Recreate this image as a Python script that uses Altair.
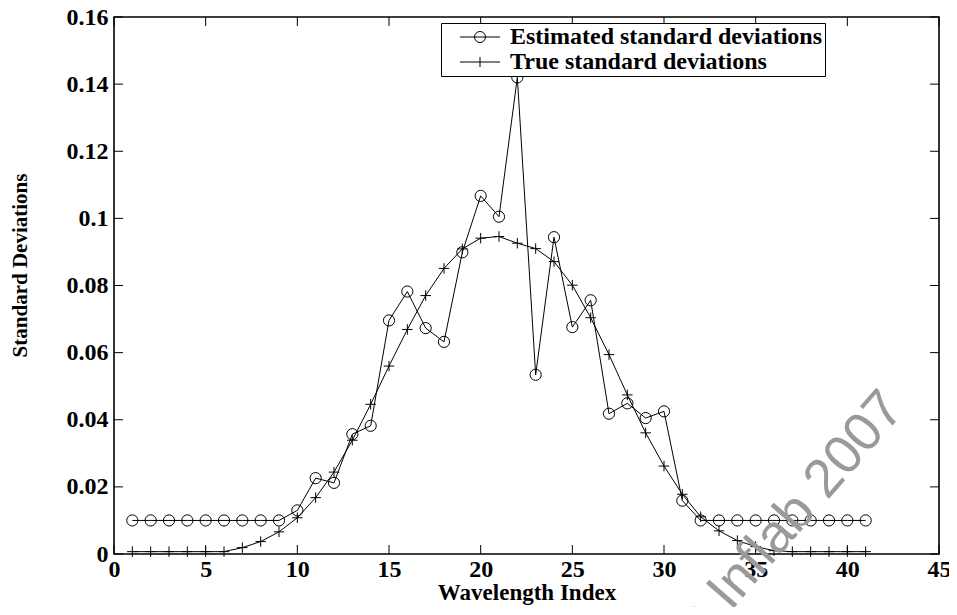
import altair as alt
import pandas as pd

# ---- data ----
wavelength_index = [1, 2, 3, 4, 5, 6, 7, 8, 9, 10, 11, 12, 13, 14, 15, 16, 17, 18, 19, 20, 21,
                    22, 23, 24, 25, 26, 27, 28, 29, 30, 31, 32, 33, 34, 35, 36, 37, 38, 39, 40, 41]
estimated_sd = [0.0100, 0.0100, 0.0100, 0.0100, 0.0100, 0.0100, 0.0100, 0.0100, 0.0100,
                0.0130, 0.0226, 0.0212, 0.0357, 0.0382, 0.0696, 0.0782, 0.0673, 0.0632,
                0.0899, 0.1067, 0.1005, 0.1420, 0.0534, 0.0944, 0.0676, 0.0756, 0.0418,
                0.0449, 0.0405, 0.0425, 0.0159, 0.0100, 0.0100, 0.0100, 0.0100, 0.0100,
                0.0100, 0.0100, 0.0100, 0.0100, 0.0100]
true_sd = [0.0007, 0.0007, 0.0007, 0.0007, 0.0007, 0.0007, 0.0019, 0.0037, 0.0066,
           0.0108, 0.0168, 0.0244, 0.0339, 0.0446, 0.0560, 0.0669, 0.0770, 0.0851,
           0.0909, 0.0941, 0.0946, 0.0926, 0.0910, 0.0871, 0.0801, 0.0704, 0.0594,
           0.0474, 0.0361, 0.0262, 0.0178, 0.0111, 0.0069, 0.0040, 0.0022, 0.0010,
           0.0007, 0.0007, 0.0007, 0.0007, 0.0007]
series_names = ["Estimated standard deviations", "True standard deviations"]
x_ticks = [0, 5, 10, 15, 20, 25, 30, 35, 40, 45]
y_ticks = [0, 0.02, 0.04, 0.06, 0.08, 0.1, 0.12, 0.14, 0.16]
x_title = "Wavelength Index"
y_title = "Standard Deviations"
watermark = ["© Inflab 2007"]

W, H = 825, 537
FONT = "Liberation Serif"
TICK = 9

df = pd.DataFrame({
    "x": wavelength_index + wavelength_index,
    "y": estimated_sd + true_sd,
    "series": [series_names[0]] * len(estimated_sd) + [series_names[1]] * len(true_sd),
})

xs = alt.Scale(domain=[0, 45], nice=False, zero=False)
ys = alt.Scale(domain=[0, 0.16], nice=False, zero=False)

x_axis = alt.Axis(values=x_ticks, title=x_title, labelFlush=False, labelOverlap=False,
                  labelPadding=3, titleFontSize=23, titleY=45, titleBaseline="alphabetic")
y_axis = alt.Axis(values=y_ticks, title=y_title, format=".2~f", labelFlush=False,
                  labelOverlap=False, labelPadding=6, titleFontSize=21, titleAngle=270,
                  titleX=-94, titleY=248, titleAlign="center", titleBaseline="middle")

X = lambda f: alt.X(f, scale=xs, axis=x_axis)
Y = lambda f: alt.Y(f, scale=ys, axis=y_axis)

base = alt.Chart(df)

lines = base.mark_line(color="black", strokeWidth=1).encode(
    x=X("x:Q"), y=Y("y:Q"), detail="series:N",
)

circles = base.transform_filter(alt.datum.series == series_names[0]).mark_point(
    shape="circle", filled=False, color="black", size=125, strokeWidth=1, opacity=1
).encode(x=X("x:Q"), y=Y("y:Q"))

plus_path = "M-1,0H1M0,-1V1"
pluses = base.transform_filter(alt.datum.series == series_names[1]).mark_point(
    shape=plus_path, filled=False, color="black", size=110, strokeWidth=1, opacity=1
).encode(x=X("x:Q"), y=Y("y:Q"))

leg_circle = "M-2,0H2M0.55,0A0.55,0.55 0 1 1 -0.55,0A0.55,0.55 0 1 1 0.55,0"
leg_plus = "M-2,0H2M0,-0.5V0.5"
legend_layer = base.transform_filter("false").mark_point(
    filled=False, color="black", size=400, strokeWidth=1, opacity=1
).encode(
    x=X("x:Q"),
    y=Y("y:Q"),
    shape=alt.Shape(
        "series:N",
        scale=alt.Scale(domain=series_names, range=[leg_circle, leg_plus]),
        legend=alt.Legend(
            title=None, orient="none", legendX=327, legendY=6,
            fillColor="white", strokeColor="black",
            padding=2, rowPadding=1, symbolOffset=25, labelOffset=18,
            symbolSize=400, symbolStrokeColor="black", symbolStrokeWidth=1,
            symbolFillColor="transparent", symbolOpacity=1,
            labelFont=FONT, labelFontWeight="bold", labelFontSize=24,
            labelColor="black", labelLimit=500,
        ),
    ),
)

xt = alt.Chart(pd.DataFrame({"t": x_ticks}))
yt = alt.Chart(pd.DataFrame({"v": y_ticks}))
tick_bottom = xt.mark_rule(color="black", strokeWidth=1).encode(
    x=X("t:Q"), y=alt.value(H), y2=alt.value(H - TICK))
tick_top = xt.mark_rule(color="black", strokeWidth=1).encode(
    x=X("t:Q"), y=alt.value(0), y2=alt.value(TICK))
tick_left = yt.mark_rule(color="black", strokeWidth=1).encode(
    y=Y("v:Q"), x=alt.value(0), x2=alt.value(TICK))
tick_right = yt.mark_rule(color="black", strokeWidth=1).encode(
    y=Y("v:Q"), x=alt.value(W), x2=alt.value(W - TICK))

wm = alt.Chart(pd.DataFrame({"t": watermark})).mark_text(
    font="Liberation Sans", fontSize=54, color="#9a9a9a", angle=311,
    align="right", baseline="alphabetic"
).encode(x=alt.value(792), y=alt.value(393), text="t:N")

chart = alt.layer(
    lines, circles, pluses, legend_layer,
    tick_bottom, tick_top, tick_left, tick_right, wm
).properties(
    width=W, height=H,
    padding={"left": 106, "top": 9, "right": 10, "bottom": 53},
    autosize=alt.AutoSizeParams(type="none"),
    background="white",
).configure_view(
    stroke="black", strokeWidth=1.6
).configure_axis(
    labelFont=FONT, labelFontWeight="bold", labelFontSize=24, labelColor="black",
    titleFont=FONT, titleFontWeight="bold", titleColor="black",
    grid=False, ticks=False, domain=False,
).configure_legend(
    strokeWidth=1, cornerRadius=0,
)

chart.save("out.html", embed_options={"renderer": "svg", "actions": False})
